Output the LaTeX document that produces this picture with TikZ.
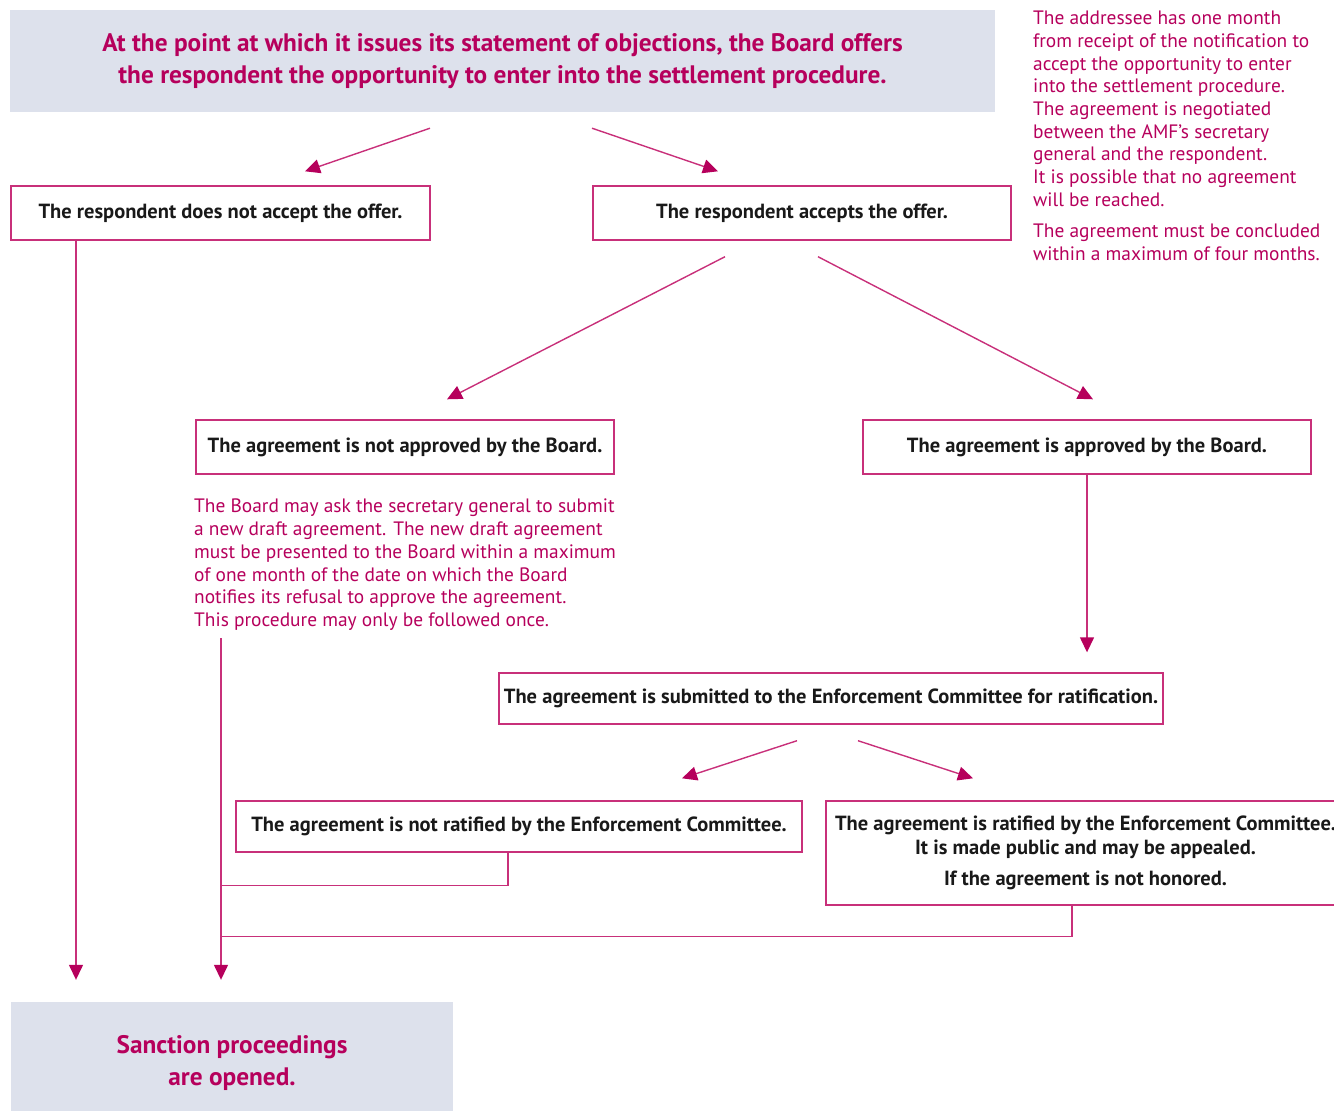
\documentclass[tikz,border=0pt]{standalone}
\usepackage{fontspec}
\setmainfont{PT Sans}
\usetikzlibrary{arrows.meta}
\definecolor{amfred}{RGB}{182,0,92}
\definecolor{amfline}{RGB}{200,48,122}
\definecolor{amfgrey}{RGB}{221,225,236}

\begin{document}
\begin{tikzpicture}[x=1pt,y=-1pt,
    box/.style={draw=amfline,line width=1.4pt,rectangle,inner sep=0pt,align=center,
      text=black!90,font=\fontsize{20.5}{24}\selectfont\bfseries},
    head/.style={fill=amfgrey,rectangle,inner sep=0pt,align=center,
      text=amfred,font=\fontsize{25.3}{32}\selectfont\bfseries},
    note/.style={text=amfred,inner sep=0pt,anchor=north west,align=left,
      font=\fontsize{19.4}{22.7}\selectfont},
    wire/.style={draw=amfline,line width=1.4pt},
    link/.style={wire,-{Triangle[length=15pt,width=14pt,color=amfred]}}]

  \useasboundingbox (0,0) rectangle (1334,1111);

  % boxes
  \node[head,minimum width=985pt,minimum height=102pt] (offer) at (502.5,61)
    {At the point at which it issues its statement of objections, the Board offers\\
     the respondent the opportunity to enter into the settlement procedure.};
  \node[box,minimum width=419pt,minimum height=54pt] (refuse) at (220.5,213)
    {The respondent does not accept the offer.};
  \node[box,minimum width=418pt,minimum height=54pt] (accept) at (802,213)
    {The respondent accepts the offer.};
  \node[box,minimum width=418pt,minimum height=54pt] (notapp) at (405,447)
    {The agreement is not approved by the Board.};
  \node[box,minimum width=448pt,minimum height=54pt] (approve) at (1087,447)
    {The agreement is approved by the Board.};
  \node[box,minimum width=664pt,minimum height=51pt] (submit) at (831,698.5)
    {The agreement is submitted to the Enforcement Committee for ratification.};
  \node[box,minimum width=566pt,minimum height=51pt] (notrat) at (519,826.5)
    {The agreement is not ratified by the Enforcement Committee.};
  \node[box,minimum width=519pt,minimum height=104pt] (ratify) at (1085.5,853)
    {The agreement is ratified by the Enforcement Committee.\\
     It is made public and may be appealed.\\[7pt]
     If the agreement is not honored.};
  \node[head,minimum width=442pt,minimum height=122pt] (sanction) at (232,1063)
    {Sanction proceedings\\ are opened.};

  % notes
  \node[note] (delay) at (1033,11)
    {The addressee has one month\\
     from receipt of the notification to\\
     accept the opportunity to enter\\
     into the settlement procedure.\\
     The agreement is negotiated\\
     between the AMF’s secretary\\
     general and the respondent.\\
     It is possible that no agreement\\
     will be reached.\\[8.3pt]
     The agreement must be concluded\\
     within a maximum of four months.};
  \node[note] (redraft) at (194,499)
    {The Board may ask the secretary general to submit\\
     a new draft agreement. The new draft agreement\\
     must be presented to the Board within a maximum\\
     of one month of the date on which the Board\\
     notifies its refusal to approve the agreement.\\
     This procedure may only be followed once.};

  % connectors
  \draw[link] ([shift={(-72.5,16)}]offer.south) -- ([shift={(84.5,-14)}]refuse.north);
  \draw[link] ([shift={(89.5,16)}]offer.south) -- ([shift={(-84,-14)}]accept.north);
  \draw[link] ([shift={(-77,16)}]accept.south) -- ([shift={(42,-20)}]notapp.north);
  \draw[link] ([shift={(16,16)}]accept.south) -- ([shift={(6,-20)}]approve.north);
  \draw[link,shorten >=20pt] (approve.south) -- (approve.south |- submit.north);
  \draw[link] ([shift={(-34,16)}]submit.south) -- ([shift={(163,-22)}]notrat.north);
  \draw[link] ([shift={(27,16)}]submit.south) -- ([shift={(-112.5,-22)}]ratify.north);

  \draw[link,shorten >=22pt] ([xshift=-144.5pt]refuse.south) coordinate (fall)
    -- (fall |- sanction.north);
  \draw[link,shorten >=22pt] ([shift={(27,139)}]redraft.north west) coordinate (drop)
    -- (drop |- sanction.north);
  \draw[wire] ([xshift=-11pt]notrat.south) -- ++(0,33) -- ++(-287,0);
  \draw[wire] ([xshift=-13.5pt]ratify.south) -- ++(0,31) -- ++(-851,0);

\end{tikzpicture}
\end{document}
